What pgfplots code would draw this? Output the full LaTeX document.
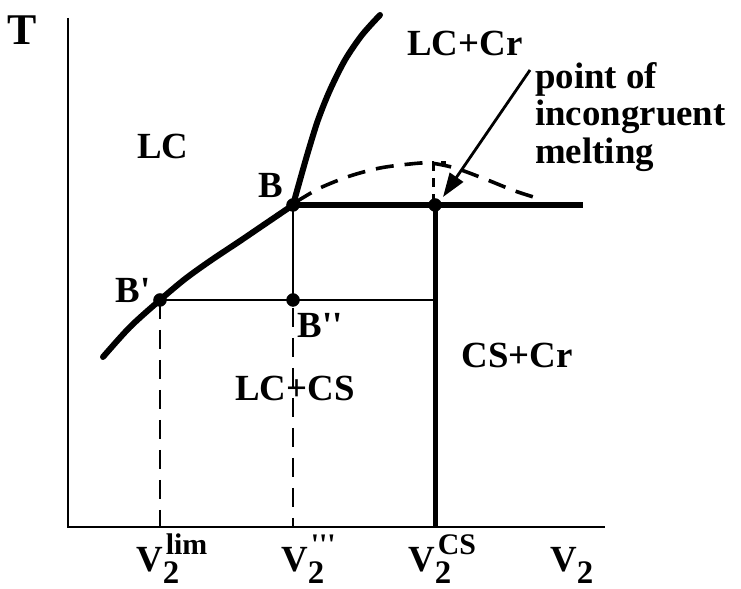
\documentclass[border=0pt]{standalone}
\usepackage{fontspec}
\setmainfont{Liberation Serif}
\usepackage{pgfplots}
\pgfplotsset{compat=1.18}
\usetikzlibrary{arrows.meta}

\newcommand\lbl{\fontsize{37}{38}\selectfont\bfseries}
\newcommand\q{\textquotesingle}
\newcommand\subtwo{\raisebox{-12bp}{\fontsize{33}{33}\selectfont 2}}
% V with subscript 2 and a superscript
\newcommand\Vs[1]{V\rlap{\subtwo}\kern3bp\raisebox{17bp}{\fontsize{30}{30}\selectfont #1}}

% liquidus branches (thick), x to the right, y upwards
\pgfplotstableread{
x y
103 232
130 262
160 289
185 310
210 328
240 348
265 365
293 384
}\liqlow
\pgfplotstableread{
x y
293 384
300 409
308 437
318 469
330 499
345 529
362 554
380 574
}\liqhigh
% metastable continuation of the liquidus (dashed)
\pgfplotstableread{
x y
296 387
320 401
350 413
380 421
410 425
430 426
455 421
485 410
515 398
540 390
}\metastable

\begin{document}
\begin{tikzpicture}
\begin{axis}[
  width=741bp, height=589bp, scale only axis,
  xmin=0, xmax=741, ymin=0, ymax=589,
  hide axis, clip=false,
]
\addplot[draw=none, forget plot] coordinates {(0,0) (741,589)};
% axes
\addplot[black, line width=2.6bp] coordinates {(68,571) (68,62) (605,62)};
% liquidus
\addplot[black, line width=6bp, line cap=round, smooth] table {\liqlow};
\addplot[black, line width=6bp, line cap=round, smooth] table {\liqhigh};
\addplot[black, line width=3.6bp, dash pattern=on 18bp off 11bp, smooth] table {\metastable};
\addplot[black, line width=3bp, dash pattern=on 9bp off 7bp] coordinates {(433,386) (433,426) (446,426)};
% peritectic horizontal and compound line
\addplot[black, line width=5.5bp] coordinates {(293,384) (583,384)};
\addplot[black, line width=5bp] coordinates {(435,384) (435,62)};
% tie lines
\addplot[black, line width=2.3bp] coordinates {(160,289) (435,289)};
\addplot[black, line width=2.3bp] coordinates {(293,384) (293,289)};
\addplot[black, line width=2.5bp, dash pattern=on 19bp off 11bp] coordinates {(160,289) (160,62)};
\addplot[black, line width=2.5bp, dash pattern=on 19bp off 11bp] coordinates {(293,281) (293,62)};
% points
\addplot[only marks, mark=*, mark size=6.5bp, black] coordinates {(293,384) (160,289) (293,289) (435,384)};
% arrow to the incongruent melting point
\addplot[black, line width=2.8bp, -{Triangle[length=24bp,width=16bp]}] coordinates {(530,519) (443,392)};

% labels
\node[font=\fontsize{44}{44}\selectfont\bfseries] at (axis cs:22,559) {T};
\node[font=\lbl] at (axis cs:163,443) {LC};
\node[font=\lbl] at (axis cs:465,546) {LC+Cr};
\node[font=\lbl, align=left, anchor=west, inner sep=0pt] at (axis cs:535,472) {point of\\incongruent\\melting};
\node[font=\lbl] at (axis cs:271,404) {B};
\node[font=\lbl] at (axis cs:133,299) {B\q};
\node[font=\lbl] at (axis cs:320,264) {B\q\q};
\node[font=\lbl] at (axis cs:295,201) {LC+CS};
\node[font=\lbl] at (axis cs:517,234) {CS+Cr};
\node[font=\lbl, anchor=base west, inner sep=0pt] at (axis cs:136,18) {\Vs{lim}};
\node[font=\lbl, anchor=base west, inner sep=0pt] at (axis cs:281,18) {\Vs{\q\q\q}};
\node[font=\lbl, anchor=base west, inner sep=0pt] at (axis cs:408,18) {\Vs{CS}};
\node[font=\lbl, anchor=base west, inner sep=0pt] at (axis cs:550,18) {V\subtwo};
\end{axis}
\end{tikzpicture}
\end{document}
